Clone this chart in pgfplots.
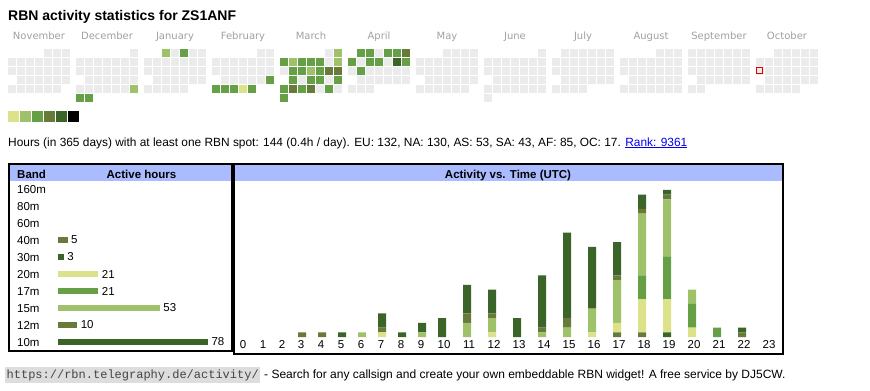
\documentclass[border=0pt]{standalone}
\usepackage{pgfplots}
\pgfplotsset{compat=1.18}
\usepackage{pgfplotstable}
\usepackage{fontspec}
\setmainfont{Liberation Sans}
\newfontfamily\monofont{Liberation Mono}
\newfontfamily\calfont{DejaVu Sans}
\definecolor{cA}{HTML}{DCE28A}
\definecolor{cB}{HTML}{9EC16A}
\definecolor{cC}{HTML}{66A046}
\definecolor{cD}{HTML}{687A3A}
\definecolor{cE}{HTML}{3B6428}
\definecolor{cgrey}{HTML}{EBEBEB}
\definecolor{hdr}{HTML}{AABBFF}
\definecolor{mgrey}{HTML}{A0A0A0}
\definecolor{linkblue}{HTML}{0000EE}
\definecolor{urlbg}{HTML}{DDDDDD}
\definecolor{urltext}{HTML}{444444}
\definecolor{todayred}{HTML}{E00000}
\newcommand{\fs}[1]{\fontsize{#1bp}{#1bp}\selectfont}

% ---- daily activity levels (0 = none, 1..6 = legend shades, 7 = today)
\pgfplotstableread[row sep=\\]{l\\0\\0\\0\\0\\0\\0\\0\\0\\0\\0\\0\\0\\0\\0\\0\\0\\0\\0\\0\\0\\0\\0\\0\\0\\0\\0\\0\\0\\0\\0\\}\tNov
\pgfplotstableread[row sep=\\]{l\\0\\0\\0\\0\\0\\0\\0\\0\\0\\0\\0\\0\\0\\0\\0\\0\\0\\0\\0\\0\\0\\0\\0\\0\\0\\0\\0\\0\\2\\3\\3\\}\tDec
\pgfplotstableread[row sep=\\]{l\\2\\0\\3\\0\\0\\0\\0\\0\\0\\0\\0\\0\\0\\0\\0\\0\\0\\0\\0\\0\\0\\0\\0\\0\\0\\0\\0\\0\\0\\0\\0\\}\tJan
\pgfplotstableread[row sep=\\]{l\\0\\0\\0\\0\\0\\0\\0\\0\\0\\0\\0\\0\\0\\0\\0\\0\\0\\0\\0\\0\\0\\0\\3\\3\\3\\3\\1\\3\\}\tFeb
\pgfplotstableread[row sep=\\]{l\\0\\2\\3\\2\\3\\3\\3\\0\\2\\3\\3\\3\\2\\3\\4\\4\\0\\3\\0\\3\\3\\0\\3\\3\\4\\3\\4\\0\\3\\0\\3\\}\tMar
\pgfplotstableread[row sep=\\]{l\\3\\3\\0\\3\\3\\4\\3\\0\\3\\3\\0\\5\\3\\3\\3\\0\\0\\0\\0\\0\\0\\0\\0\\0\\0\\0\\0\\0\\0\\0\\}\tApr
\pgfplotstableread[row sep=\\]{l\\0\\0\\0\\0\\0\\0\\0\\0\\0\\0\\0\\0\\0\\0\\0\\0\\0\\0\\0\\0\\0\\0\\0\\0\\0\\0\\0\\0\\0\\0\\0\\}\tMay
\pgfplotstableread[row sep=\\]{l\\0\\0\\0\\0\\0\\0\\0\\0\\0\\0\\0\\0\\0\\0\\0\\0\\0\\0\\0\\0\\0\\0\\0\\0\\0\\0\\0\\0\\0\\0\\}\tJun
\pgfplotstableread[row sep=\\]{l\\0\\0\\0\\0\\0\\0\\0\\0\\0\\0\\0\\0\\0\\0\\0\\0\\0\\0\\0\\0\\0\\0\\0\\0\\0\\0\\0\\0\\0\\0\\0\\}\tJul
\pgfplotstableread[row sep=\\]{l\\0\\0\\0\\0\\0\\0\\0\\0\\0\\0\\0\\0\\0\\0\\0\\0\\0\\0\\0\\0\\0\\0\\0\\0\\0\\0\\0\\0\\0\\0\\0\\}\tAug
\pgfplotstableread[row sep=\\]{l\\0\\0\\0\\0\\0\\0\\0\\0\\0\\0\\0\\0\\0\\0\\0\\0\\0\\0\\0\\0\\0\\0\\0\\0\\0\\0\\0\\0\\0\\0\\}\tSep
\pgfplotstableread[row sep=\\]{l\\0\\0\\0\\0\\0\\0\\0\\0\\0\\0\\0\\0\\7\\0\\0\\0\\0\\0\\0\\0\\0\\0\\0\\0\\0\\0\\0\\0\\0\\0\\0\\}\tOct

% ---- hours with activity per UTC hour and band (pos = bar position in px)
\pgfplotstableread{
hour pos b40 b30 b20 b17 b15 b12 b10
0  243 0 0 0 0 0  0 0
1  263 0 0 0 0 0  0 0
2  283 0 0 0 0 0  0 0
3  302 1 0 0 0 0  0 0
4  322 1 0 0 0 0  0 0
5  342 0 1 0 0 0  0 0
6  362 0 0 0 0 1  0 0
7  382 0 0 1 0 0  1 3
8  402 0 1 0 0 0  0 0
9  422 0 0 0 0 1  0 2
10 442 0 0 0 0 0  0 4
11 467 0 0 0 0 3  2 6
12 492 0 0 1 0 3  1 5
13 517 0 0 0 0 0  0 4
14 542 0 0 0 0 1  1 11
15 567 0 0 0 0 2  2 18
16 592 0 0 1 0 5  0 13
17 617 1 0 2 0 9  1 7
18 642 1 0 7 5 13 1 3
19 667 0 1 7 9 12 1 1
20 692 0 0 2 5 3  0 0
21 717 0 0 0 2 0  0 0
22 742 1 0 0 0 0  0 1
23 767 0 0 0 0 0  0 0
}\acttab

\pgfplotsset{
  /pgf/number format/assume math mode=true,
  calstyle/.style={only marks, scatter, scatter src=explicit symbolic, mark size=3.3bp,
    scatter/classes={
      0={mark=square*,cgrey},
      1={mark=square*,cA},
      2={mark=square*,cB},
      3={mark=square*,cC},
      4={mark=square*,cD},
      5={mark=square*,cE},
      6={mark=square*,black},
      7={mark=square*,white}}},
}
\newcommand{\calmonth}[3]{%
  \addplot[calstyle] table[x index=0, y index=0, meta index=0,
    x expr={#1+9*mod(\coordindex+#2,7)+3.5},
    y expr={49+9*floor((\coordindex+#2)/7)+3.5}] {#3};}
\newcommand{\mlab}[2]{\node[anchor=base, inner sep=0, text=mgrey, font=\calfont\fs{10}] at (axis cs:#1,39) {#2};}
\newcommand{\blab}[2]{\node[anchor=base west, inner sep=0, font=\fs{11.5}] at (axis cs:17,#1) {#2};}

\begin{document}
\begin{tikzpicture}
% ================= canvas (pixel coordinates) =================
\begin{axis}[at={(0,0)}, anchor=north west, scale only axis,
  width=870bp, height=390bp, xmin=0, xmax=870, ymin=0, ymax=390,
  y dir=reverse, hide axis, clip=false]
\addplot[draw=none] coordinates {(0,0) (870,390)};
% title
\node[anchor=base west, inner sep=0, font=\bfseries\fs{14}] at (axis cs:8,20)
  {RBN activity statistics for ZS1ANF};
% month labels
\mlab{39}{November}\mlab{107}{December}\mlab{175}{January}\mlab{243}{February}
\mlab{311}{March}\mlab{379}{April}\mlab{447}{May}\mlab{515}{June}
\mlab{583}{July}\mlab{651}{August}\mlab{719}{September}\mlab{787}{October}
% calendar
\calmonth{8}{4}{\tNov}
\calmonth{76}{6}{\tDec}
\calmonth{144}{2}{\tJan}
\calmonth{212}{5}{\tFeb}
\calmonth{280}{5}{\tMar}
\calmonth{348}{1}{\tApr}
\calmonth{416}{3}{\tMay}
\calmonth{484}{6}{\tJun}
\calmonth{552}{1}{\tJul}
\calmonth{620}{4}{\tAug}
\calmonth{688}{0}{\tSep}
\calmonth{756}{2}{\tOct}
% today marker (13 October: first cell of the third week row)
\addplot[only marks, mark=square, mark size=3.2bp, color=todayred,
  mark options={line width=1.1bp, draw=todayred}] coordinates {(759.5,70.5)};
% legend swatches
\addplot[only marks, scatter, scatter src=explicit symbolic, mark size=4.8bp,
  scatter/classes={1={mark=square*,cA},2={mark=square*,cB},
  3={mark=square*,cC},4={mark=square*,cD},
  5={mark=square*,cE},6={mark=square*,black}}]
  coordinates {(13,116) [1] (25,116) [2] (37,116) [3] (49,116) [4] (61,116) [5] (73,116) [6]};
% info line
\node[anchor=base west, inner sep=0, font=\fs{11.9}] at (axis cs:8,146)
  {Hours (in 365 days) with at least one RBN spot: 144 (0.4h / day). EU: 132, NA: 130, AS: 53, SA: 43, AF: 85, OC: 17. \textcolor{linkblue}{\underline{Rank: 9361}}};
% panels
\fill[hdr] (axis cs:10,165) rectangle (axis cs:231,181);
\fill[hdr] (axis cs:235,165) rectangle (axis cs:782,181);
\draw[line width=2bp] (axis cs:9,164) rectangle (axis cs:232,351);
\draw[line width=2bp] (axis cs:234,164) rectangle (axis cs:783,353.5);
\node[anchor=base west, inner sep=0, font=\bfseries\fs{11.5}] at (axis cs:17,178) {Band};
\node[anchor=base, inner sep=0, font=\bfseries\fs{11.5}] at (axis cs:141.5,178) {Active hours};
\node[anchor=base, inner sep=0, font=\bfseries\fs{11.5}] at (axis cs:508,178) {Activity vs. Time (UTC)};
\blab{193}{160m}\blab{210}{80m}\blab{227}{60m}\blab{244}{40m}\blab{261}{30m}
\blab{278}{20m}\blab{295}{17m}\blab{312}{15m}\blab{329}{12m}\blab{346}{10m}
% footer
\node[anchor=base west, fill=urlbg, inner xsep=1.5bp, inner ysep=2bp, text=urltext,
  font=\monofont\fs{12}] at (axis cs:5,378) {https://rbn.telegraphy.de/activity/};
\node[anchor=base west, inner sep=0, font=\fs{12}] at (axis cs:264,378)
  {- Search for any callsign and create your own embeddable RBN widget! A free service by DJ5CW.};
\end{axis}

% ================= band bars =================
\begin{axis}[at={(58bp,-181bp)}, anchor=north west, scale only axis,
  width=150bp, height=171bp, xmin=0, xmax=78, ymin=181, ymax=352, y dir=reverse,
  hide axis, clip=false, xbar, bar width=6bp, bar shift=0pt,
  nodes near coords, every node near coord/.append style={font=\fs{11.5}, text=black, anchor=west}]
\addplot[fill=cD, draw=none] coordinates {(5,240)};
\addplot[fill=cE, draw=none] coordinates {(3,257)};
\addplot[fill=cA, draw=none] coordinates {(21,274)};
\addplot[fill=cC, draw=none] coordinates {(21,291)};
\addplot[fill=cB, draw=none] coordinates {(53,308)};
\addplot[fill=cD, draw=none] coordinates {(10,325)};
\addplot[fill=cE, draw=none] coordinates {(78,342)};
\end{axis}

% ================= activity vs time =================
\begin{axis}[at={(234bp,-337bp)}, anchor=south west, scale only axis,
  width=548bp, height=156bp, xmin=234, xmax=782, ymin=0, ymax=32.84,
  ybar stacked, bar width=8bp, axis line style={draw=none}, ytick=\empty,
  xtick={243,263,282,301,321,341,361,381,401,421,444,469,494,519,544,569,594,619,644,669,694,719,744,769},
  xticklabels={0,1,2,3,4,5,6,7,8,9,10,11,12,13,14,15,16,17,18,19,20,21,22,23},
  major tick length=0pt, xticklabel style={font=\fs{11.5}, text=black}, clip=false]
\addplot[fill=cD, draw=none] table[x=pos, y=b40] {\acttab};
\addplot[fill=cE, draw=none] table[x=pos, y=b30] {\acttab};
\addplot[fill=cA, draw=none] table[x=pos, y=b20] {\acttab};
\addplot[fill=cC, draw=none] table[x=pos, y=b17] {\acttab};
\addplot[fill=cB, draw=none] table[x=pos, y=b15] {\acttab};
\addplot[fill=cD, draw=none] table[x=pos, y=b12] {\acttab};
\addplot[fill=cE, draw=none] table[x=pos, y=b10] {\acttab};
\end{axis}
\end{tikzpicture}
\end{document}
